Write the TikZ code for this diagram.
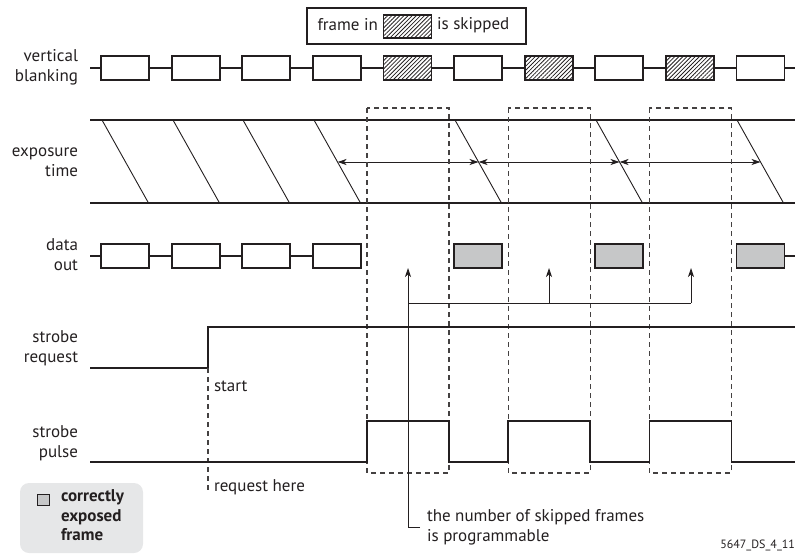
\documentclass[tikz,border=0pt]{standalone}
\usepackage{fontspec}
\setmainfont{PT Sans}
\usetikzlibrary{patterns.meta,arrows.meta,calc}
\definecolor{goodgray}{HTML}{C6C7C8}
\definecolor{legendgray}{HTML}{E6E7E8}
\definecolor{ink}{HTML}{231F20}
\begin{document}
\begin{tikzpicture}[x=1pt,y=-1pt,
  every node/.style={inner sep=0pt, outer sep=0pt, text=ink},
  txt/.style={font=\fontsize{17}{20}\selectfont},
  lab/.style={txt, align=right, anchor=east},
  wave/.style={line width=1.8pt, draw=ink},
  frm/.style={draw=ink, line width=1.8pt, minimum width=48pt, minimum height=24pt, fill=white},
  skipfrm/.style={frm, pattern={Lines[angle=45,distance=2.9pt,line width=0.8pt]}, pattern color=ink},
  goodfrm/.style={frm, fill=goodgray},
  thinline/.style={line width=0.9pt, draw=ink},
  dashline/.style={line width=1.2pt, draw=ink!85, dash pattern=on 5pt off 4pt},
  tip/.style={-{Stealth[length=9pt,width=6pt,inset=2.5pt]}},
  dtip/.style={{Stealth[length=9pt,width=6pt,inset=2.5pt]}-{Stealth[length=9pt,width=6pt,inset=2.5pt]}}
]
\useasboundingbox (0,0) rectangle (795,555);

% ---------- legend top
\node[draw=ink, line width=1.5pt, minimum width=219pt, minimum height=36pt] (leg) at (416.5,26) {};
\node[txt, anchor=east] (legA) at (378,25) {frame in};
\node[skipfrm, minimum width=48pt, minimum height=23pt, line width=1.5pt] (legbox) at (407.5,26.5) {};
\node[txt, anchor=west] (legB) at (437,25) {is skipped};

% ---------- labels
\node[lab] (lv) at (78,67) {vertical\\blanking};
\node[lab] (le) at (78,162) {exposure\\time};
\node[lab] (ld) at (78,255) {data\\out};
\node[lab] (lr) at (78,348) {strobe\\request};
\node[lab] (lp) at (78,443) {strobe\\pulse};

% ---------- vertical blanking
\foreach \i/\s in {1/frm,2/frm,3/frm,4/frm,5/skipfrm,6/frm,7/skipfrm,8/frm,9/skipfrm,10/frm}{
  \node[\s] (v\i) at ({101+24+70.6*(\i-1)},68) {};
}
\coordinate (vstart) at (90,68);
\coordinate (vend) at (795,68);
\draw[wave] (vstart) -- (v1.west);
\foreach \i [evaluate=\i as \j using int(\i+1)] in {1,...,9}{
  \draw[wave] (v\i.east) -- (v\j.west);
}
\draw[wave] (v10.east) -- (vend);

% ---------- exposure time
\coordinate (et1) at (90,120); \coordinate (et2) at (795,120);
\coordinate (eb1) at (90,203); \coordinate (eb2) at (795,203);
\draw[wave] (et1) -- (et2);
\draw[wave] (eb1) -- (eb2);
\foreach \k/\x in {1/102,2/173,3/243,4/314,5/455,6/596,7/737}{
  \coordinate (dt\k) at (\x,120);
  \coordinate (db\k) at (\x+46.5,203);
  \draw[thinline] (dt\k) -- (db\k);
  \coordinate (dm\k) at ($(dt\k)!0.506!(db\k)$);
}
\draw[thinline, dtip] (dm4) -- (dm5);
\draw[thinline, dtip] (dm5) -- (dm6);
\draw[thinline, dtip] (dm6) -- (dm7);

% ---------- dashed windows
\foreach \x in {367,508.2,649.4}{
  \draw[dashline] (\x,108) rectangle (\x+82,473);
}

% ---------- data out
\foreach \i in {1,...,4}{
  \node[frm] (o\i) at ({101+24+70.6*(\i-1)},256) {};
}
\foreach \i/\k in {5/6,6/8,7/10}{
  \node[goodfrm] (o\i) at ({101+24+70.6*(\k-1)},256) {};
}
\coordinate (ostart) at (90,256);
\coordinate (oend) at (795,256);
\draw[wave] (ostart) -- (o1.west);
\draw[wave] (o1.east) -- (o2.west);
\draw[wave] (o2.east) -- (o3.west);
\draw[wave] (o3.east) -- (o4.west);
\draw[wave] (o7.east) -- (oend);

% ---------- programmable skip arrows
\coordinate (tipA) at (408,268);
\coordinate (tipB) at (549,268);
\coordinate (tipC) at (691,268);
\coordinate (busA) at (408,303);
\coordinate (busB) at (549,303);
\coordinate (busC) at (691,303);
\node[txt, anchor=west, align=left, inner xsep=7pt] (note) at (420,527) {the number of skipped frames\\is programmable};
\draw[thinline, tip] (note.west) -| (tipA);
\draw[thinline] (busA) -- (busC);
\draw[thinline, tip] (busB) -- (tipB);
\draw[thinline, tip] (busC) -- (tipC);

% ---------- strobe request
\coordinate (r0) at (90,368);
\coordinate (r1) at (208,368);
\coordinate (r2) at (208,327);
\coordinate (r3) at (795,327);
\draw[wave] (r0) -- (r1) -- (r2) -- (r3);
\coordinate (rdash) at (208,492);
\draw[dashline] (r1) -- (rdash);
\node[txt, anchor=west] (start) at (214,386) {start};
\node[txt, anchor=west] (reqhere) at (214,487) {request here};

% ---------- strobe pulse
\draw[wave] (90,462) -- (367,462) -- (367,421) -- (449,421) -- (449,462)
  -- (508.2,462) -- (508.2,421) -- (590.2,421) -- (590.2,462)
  -- (649.4,462) -- (649.4,421) -- (731.4,421) -- (731.4,462) -- (795,462);

% ---------- legend bottom-left
\node[fill=legendgray, rounded corners=9pt, minimum width=123pt, minimum height=70pt] (goodleg) at (81.5,518) {};
\node[draw=ink, fill=goodgray, line width=1.2pt, minimum width=12pt, minimum height=11pt] (goodsq) at (43.5,500) {};
\node[font=\fontsize{17}{19.3}\selectfont\bfseries, anchor=north west, align=left] (goodtxt) at (61,490) {correctly\\exposed\\frame};

% ---------- figure id
\node[font=\fontsize{12}{14}\selectfont, anchor=east] (figid) at (795,545) {5647\_DS\_4\_11};
\end{tikzpicture}
\end{document}
